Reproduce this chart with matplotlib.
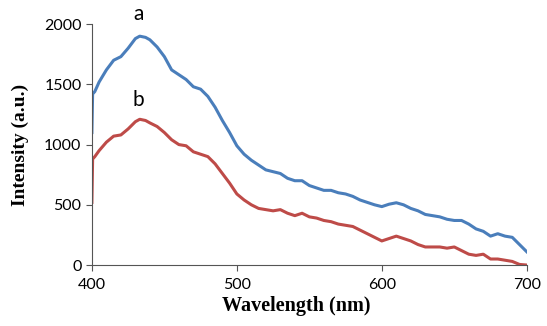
import matplotlib
matplotlib.use('Agg')
import matplotlib.pyplot as plt
import numpy as np

# wavelength (nm) and emission intensity (a.u.)
wl = [400, 400.5, 402, 405, 410, 415, 420, 425, 430, 433, 437, 440, 445, 450,
      455, 460, 465, 470, 475, 480, 485, 490, 495, 500, 505, 510, 515, 520,
      525, 530, 535, 540, 545, 550, 555, 560, 565, 570, 575, 580, 585, 590,
      595, 600, 605, 610, 615, 620, 625, 630, 635, 640, 645, 650, 655, 660,
      665, 670, 675, 680, 685, 690, 695, 700]
curve_a = [1100, 1420, 1440, 1520, 1620, 1700, 1730, 1800, 1880, 1900, 1890,
           1870, 1810, 1730, 1620, 1580, 1540, 1480, 1460, 1400, 1310, 1200,
           1100, 990, 920, 870, 830, 790, 775, 760, 720, 700, 700, 660, 640,
           620, 620, 600, 590, 570, 540, 520, 500, 485, 505, 517, 500, 470,
           450, 420, 410, 400, 380, 370, 370, 340, 300, 280, 240, 260, 240,
           230, 170, 110]
curve_b = [520, 880, 900, 950, 1020, 1070, 1080, 1130, 1190, 1210, 1200, 1180,
           1150, 1100, 1040, 1000, 990, 940, 920, 900, 840, 760, 680, 590, 540,
           500, 470, 460, 450, 460, 430, 410, 430, 400, 390, 370, 360, 340, 330,
           320, 290, 260, 230, 200, 220, 240, 220, 200, 170, 150, 150, 150, 140,
           150, 120, 90, 80, 90, 50, 50, 40, 30, 5, 0]

plt.rcParams['font.family'] = 'Liberation Serif'

fig = plt.figure(figsize=(5.47, 3.26), dpi=100)
ax = fig.add_axes([0.168, 0.187, 0.795, 0.739])

ax.plot(wl, curve_a, color='#4a7ebb', lw=2.2)
ax.plot(wl, curve_b, color='#be4b48', lw=2.2)

ax.text(432, 2033, 'a', ha='center', va='baseline', fontsize=15,
        family='Lato', clip_on=False)
ax.text(432, 1320, 'b', ha='center', va='baseline', fontsize=15, family='Lato')

ax.set_xlim(400, 700)
ax.set_ylim(0, 2000)
ax.set_xticks([400, 500, 600, 700])
ax.set_yticks([0, 500, 1000, 1500, 2000])
ax.tick_params(labelsize=11.5, direction='out', length=4, color='#555555')
ax.tick_params(axis='x', pad=5)
for lbl in ax.get_xticklabels() + ax.get_yticklabels():
    lbl.set_family('Lato')
for s in ['top', 'right']:
    ax.spines[s].set_visible(False)
for s in ['left', 'bottom']:
    ax.spines[s].set_color('#555555')

ax.set_xlabel('Wavelength (nm)', fontsize=14.5, fontweight='bold', labelpad=3)
ax.xaxis.set_label_coords(0.47, -0.13)
ax.set_ylabel('Intensity (a.u.)', fontsize=14, fontweight='bold', labelpad=11)

fig.savefig('out.png', dpi=100)
